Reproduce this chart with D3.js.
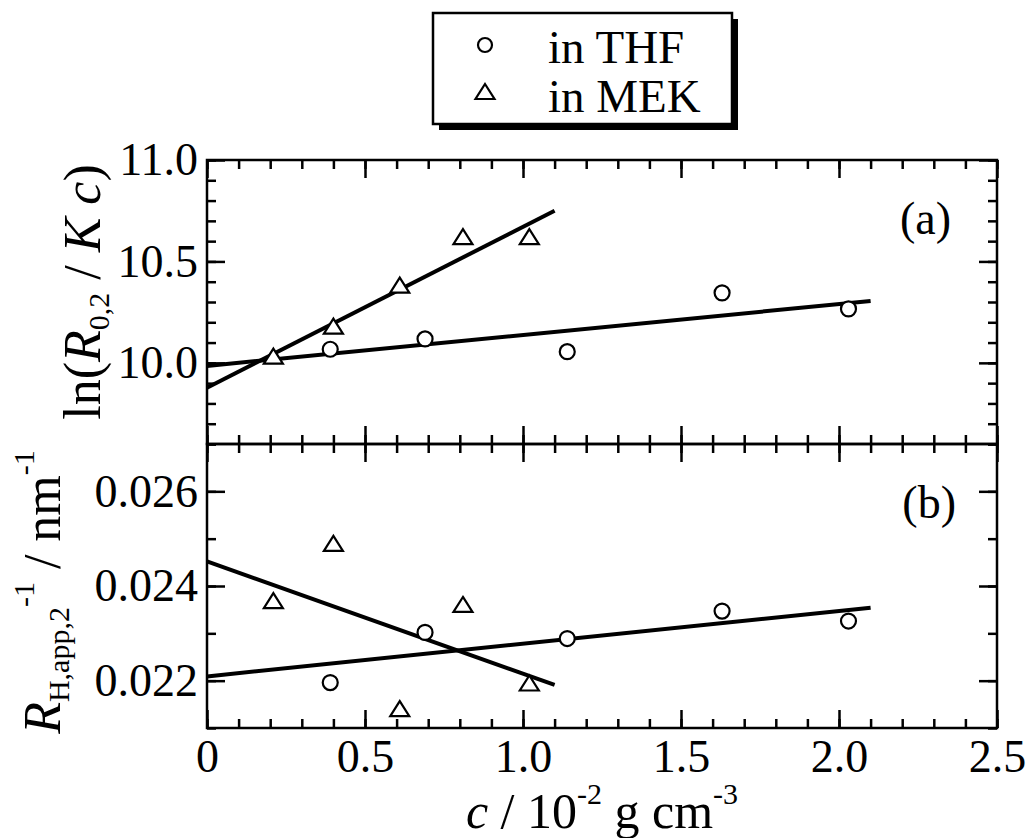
<!DOCTYPE html>
<html>
<head>
<meta charset="utf-8">
<script src="https://cdn.jsdelivr.net/npm/d3@7/dist/d3.min.js"></script>
<style>
    body { margin: 0; background: #fff; }
    svg text { font-family: "Liberation Serif", "Times New Roman", serif; fill: #000; }
</style>
</head>
<body>
<div id="chartDiv"></div>
<script>
// concentrations (10^-2 g cm^-3)
var cTHF = [0.39, 0.69, 1.14, 1.63, 2.03];
var cMEK = [0.21, 0.40, 0.61, 0.81, 1.02];
// panel (a): ln(R0,2 / K c)
var lnTHF = [10.067, 10.118, 10.055, 10.345, 10.266];
var lnMEK = [10.031, 10.179, 10.381, 10.62, 10.62];
// panel (b): 1 / RH,app,2
var invTHF = [0.02196, 0.02302, 0.02289, 0.02347, 0.02326];
var invMEK = [0.02368, 0.02489, 0.02140, 0.02360, 0.02194];
// fitted straight lines (end points)
var fitTHFc = [0, 2.1];
var fitMEKc = [0, 1.1];
var fitTHFa = [9.985, 10.305];
var fitMEKa = [9.877, 10.75];
var fitTHFb = [0.02209, 0.02354];
var fitMEKb = [0.02452, 0.02191];
// ticks
var xMajor = [0, 0.5, 1.0, 1.5, 2.0, 2.5];
var xLabels = ["0", "0.5", "1.0", "1.5", "2.0", "2.5"];
var yaMajor = [10.0, 10.5, 11.0];
var yaLabels = ["10.0", "10.5", "11.0"];
var ybMajor = [0.022, 0.024, 0.026];
var ybLabels = ["0.022", "0.024", "0.026"];
var legendNames = ["in THF", "in MEK"];

var W = 1031, H = 838;
var left = 207, right = 997, topA = 160, mid = 444, botB = 728;
var tickMinor = 9, tickMajor = 18;

var svg = d3.select("#chartDiv").append("svg:svg").attr("width", W).attr("height", H);

var x = d3.scaleLinear().domain([0, 2.5]).range([left, right]);
var yA = d3.scaleLinear().domain([9.6, 11.0]).range([mid, topA]);
var yB = d3.scaleLinear().domain([0.021, 0.027]).range([botB, mid]);

var xMinor = d3.range(0, 26).map(function (i) { return i / 10; });
var yaMinor = d3.range(96, 111).map(function (i) { return i / 10; });
var ybMinor = d3.range(21, 28).map(function (i) { return i / 1000; });

function fmt(ticks, labels) {
    return function (d) {
        var i = ticks.findIndex(function (t) { return Math.abs(t - d) < 1e-9; });
        return i < 0 ? "" : labels[i];
    };
}

function tickGroup(axis, tx, ty) {
    var g = svg.append("g").attr("transform", "translate(" + tx + "," + ty + ")").call(axis);
    g.select(".domain").remove();
    g.selectAll("line").style("stroke", "#000").style("stroke-width", "2.5px");
    g.selectAll("text").style("font-size", "46px").style("font-family", "Liberation Serif");
    return g;
}

function drawPanel(y, yMinorV, yMajorV, yLabelsV, yTop, yBot, labelX) {
    // minor ticks, all four sides
    tickGroup(d3.axisLeft(y).tickValues(yMinorV).tickSize(-tickMinor).tickFormat(""), left, 0);
    tickGroup(d3.axisRight(y).tickValues(yMinorV).tickSize(-tickMinor).tickFormat(""), right, 0);
    tickGroup(d3.axisTop(x).tickValues(xMinor).tickSize(-tickMinor).tickFormat(""), 0, yTop);
    tickGroup(d3.axisBottom(x).tickValues(xMinor).tickSize(-tickMinor).tickFormat(""), 0, yBot);
    // major ticks
    tickGroup(d3.axisLeft(y).tickValues(yMajorV).tickSize(-tickMajor).tickPadding(9)
        .tickFormat(fmt(yMajorV, yLabelsV)), left, 0);
    tickGroup(d3.axisRight(y).tickValues(yMajorV).tickSize(-tickMajor).tickFormat(""), right, 0);
    tickGroup(d3.axisTop(x).tickValues(xMajor).tickSize(-tickMajor).tickFormat(""), 0, yTop);
    tickGroup(d3.axisBottom(x).tickValues(xMajor).tickSize(-tickMajor).tickPadding(11)
        .tickFormat(labelX ? fmt(xMajor, xLabels) : ""), 0, yBot);

    svg.append("rect").attr("x", left).attr("y", yTop).attr("width", right - left).attr("height", yBot - yTop)
        .style("fill", "none").style("stroke", "#000").style("stroke-width", "2.5px");
}

drawPanel(yA, yaMinor, yaMajor, yaLabels, topA, mid, false);
drawPanel(yB, ybMinor, ybMajor, ybLabels, mid, botB, true);

// fitted lines
function drawFit(cs, vs, y) {
    var pts = cs.map(function (c, i) { return [x(c), y(vs[i])]; });
    svg.append("path").attr("d", d3.line()(pts))
        .style("fill", "none").style("stroke", "#000").style("stroke-width", "4px").style("stroke-linecap", "butt");
}
drawFit(fitTHFc, fitTHFa, yA);
drawFit(fitMEKc, fitMEKa, yA);
drawFit(fitTHFc, fitTHFb, yB);
drawFit(fitMEKc, fitMEKb, yB);

// markers
var triPath = "M0,-8L9.5,7L-9.5,7Z";
function drawCircles(cs, vs, y) {
    svg.append("g").selectAll("circle").data(cs).enter().append("circle")
        .attr("cx", function (d) { return x(d); })
        .attr("cy", function (d, i) { return y(vs[i]); })
        .attr("r", 7.5)
        .style("fill", "#fff").style("stroke", "#000").style("stroke-width", "2.2px");
}
function drawTriangles(cs, vs, y) {
    svg.append("g").selectAll("path").data(cs).enter().append("path")
        .attr("d", triPath)
        .attr("transform", function (d, i) { return "translate(" + x(d) + "," + y(vs[i]) + ")"; })
        .style("fill", "#fff").style("stroke", "#000").style("stroke-width", "2.2px")
        .style("stroke-linejoin", "miter");
}
drawCircles(cTHF, lnTHF, yA);
drawTriangles(cMEK, lnMEK, yA);
drawCircles(cTHF, invTHF, yB);
drawTriangles(cMEK, invMEK, yB);

// panel labels
svg.append("text").attr("x", 951).attr("y", 234).attr("text-anchor", "end")
    .style("font-size", "46px").text("(a)");
svg.append("text").attr("x", 956).attr("y", 518).attr("text-anchor", "end")
    .style("font-size", "46px").text("(b)");

// y title (a)
var ta = svg.append("text").attr("transform", "translate(100,292) rotate(-90)")
    .attr("text-anchor", "middle").style("font-size", "52px");
ta.append("tspan").text("ln(");
ta.append("tspan").style("font-style", "italic").text("R");
ta.append("tspan").attr("dy", 9).style("font-size", "30px").text("0,2");
ta.append("tspan").attr("dy", -9).text(" / ");
ta.append("tspan").style("font-style", "italic").text("K c");
ta.append("tspan").text(")");

// y title (b)
var tb = svg.append("text").attr("transform", "translate(60,592) rotate(-90)")
    .attr("text-anchor", "middle").style("font-size", "52px");
tb.append("tspan").style("font-style", "italic").text("R");
tb.append("tspan").attr("dy", 9).style("font-size", "30px").text("H,app,2");
tb.append("tspan").attr("dy", -35).style("font-size", "30px").text("-1");
tb.append("tspan").attr("dy", 26).text(" / nm");
tb.append("tspan").attr("dy", -26).style("font-size", "30px").text("-1");

// x title
var tx = svg.append("text").attr("x", 602).attr("y", 828)
    .attr("text-anchor", "middle").style("font-size", "50px");
tx.append("tspan").style("font-style", "italic").text("c");
tx.append("tspan").text(" / 10");
tx.append("tspan").attr("dy", -24).style("font-size", "30px").text("-2");
tx.append("tspan").attr("dy", 24).text(" g cm");
tx.append("tspan").attr("dy", -24).style("font-size", "30px").text("-3");

// legend
var leg = svg.append("g").attr("class", "legend");
leg.append("rect").attr("x", 439).attr("y", 19).attr("width", 299).attr("height", 111).style("fill", "#000");
leg.append("rect").attr("x", 433).attr("y", 13).attr("width", 299).attr("height", 111)
    .style("fill", "#fff").style("stroke", "#000").style("stroke-width", "2.5px");
leg.append("circle").attr("cx", 485).attr("cy", 45).attr("r", 7)
    .style("fill", "#fff").style("stroke", "#000").style("stroke-width", "2.2px");
leg.append("path").attr("d", triPath).attr("transform", "translate(485,92)")
    .style("fill", "#fff").style("stroke", "#000").style("stroke-width", "2.2px");
leg.selectAll("text.legendText").data(legendNames).enter().append("text").attr("class", "legendText")
    .attr("x", 548).attr("y", function (d, i) { return 63 + i * 49; })
    .style("font-size", "47px").text(function (d) { return d; });
</script>
</body>
</html>
